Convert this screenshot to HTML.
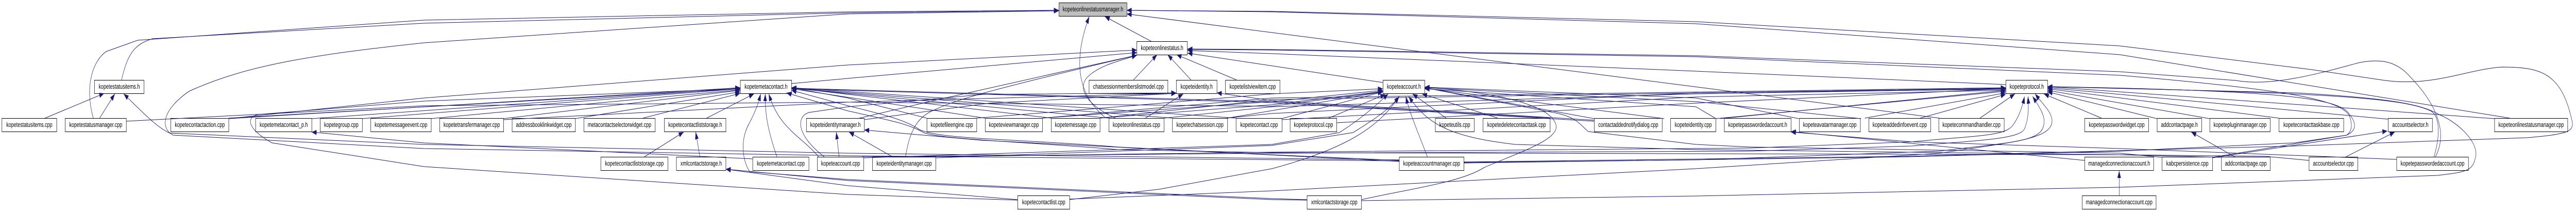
<!DOCTYPE html>
<html><head><meta charset="utf-8"><title>kopeteonlinestatusmanager.h include graph</title>
<style>
html,body{margin:0;padding:0;background:#fff;width:100%;height:100%;overflow:hidden}
svg{display:block;width:100vw;height:100vh}
rect{fill:#fff;stroke:#000;stroke-width:1}
text{font-family:"Liberation Sans",Arial,sans-serif;font-size:13.1px;text-anchor:middle;fill:#000;text-rendering:geometricPrecision}
.e path{fill:none;stroke:#191970;stroke-width:1;marker-end:url(#a)}
</style></head><body>
<svg xmlns="http://www.w3.org/2000/svg" viewBox="0 0 7291 411" preserveAspectRatio="none">
<defs><marker id="a" markerUnits="userSpaceOnUse" markerWidth="15" markerHeight="11" refX="14" refY="5" orient="auto"><path d="M0,0L14,5L0,10z" fill="#191970" stroke="none"/></marker></defs>
<rect width="7291" height="411" style="fill:#fff;stroke:none"/>
<!-- row 0 -->
<rect x="2997.5" y="5.5" width="192" height="26" style="fill:#bfbfbf"/><text x="3093.5" y="22">kopeteonlinestatusmanager.h</text>
<!-- row 1 -->
<rect x="3217.5" y="80.5" width="143" height="26"/><text x="3289" y="97">kopeteonlinestatus.h</text>
<!-- row 2 -->
<rect x="267.5" y="155.5" width="140" height="26"/><text x="337.5" y="172">kopetestatusitems.h</text>
<rect x="2095.5" y="155.5" width="145" height="26"/><text x="2168" y="172">kopetemetacontact.h</text>
<rect x="3082.5" y="155.5" width="223" height="26"/><text x="3194" y="172">chatsessionmemberslistmodel.cpp</text>
<rect x="3329.5" y="155.5" width="115" height="26"/><text x="3387" y="172">kopeteidentity.h</text>
<rect x="3468.5" y="155.5" width="154" height="26"/><text x="3545.5" y="172">kopetelistviewitem.cpp</text>
<rect x="3914.5" y="155.5" width="118" height="26"/><text x="3973.5" y="172">kopeteaccount.h</text>
<rect x="5677.5" y="155.5" width="118" height="26"/><text x="5736.5" y="172">kopeteprotocol.h</text>
<!-- row 3 -->
<rect x="5.5" y="229.5" width="155" height="26"/><text x="83" y="246">kopetestatusitems.cpp</text>
<rect x="184.5" y="229.5" width="173" height="26"/><text x="271" y="246">kopetestatusmanager.cpp</text>
<rect x="483.5" y="229.5" width="164" height="26"/><text x="565.5" y="246">kopetecontactaction.cpp</text>
<rect x="723.5" y="229.5" width="159" height="26"/><text x="803" y="246">kopetemetacontact_p.h</text>
<rect x="906.5" y="229.5" width="119" height="26"/><text x="966" y="246">kopetegroup.cpp</text>
<rect x="1049.5" y="229.5" width="171" height="26"/><text x="1135" y="246">kopetemessageevent.cpp</text>
<rect x="1244.5" y="229.5" width="181" height="26"/><text x="1335" y="246">kopetetransfermanager.cpp</text>
<rect x="1449.5" y="229.5" width="179" height="26"/><text x="1539" y="246">addressbooklinkwidget.cpp</text>
<rect x="1652.5" y="229.5" width="202" height="26"/><text x="1753.5" y="246">metacontactselectorwidget.cpp</text>
<rect x="1880.5" y="229.5" width="174" height="26"/><text x="1967.5" y="246">kopetecontactliststorage.h</text>
<rect x="2282.5" y="229.5" width="164" height="26"/><text x="2364.5" y="246">kopeteidentitymanager.h</text>
<rect x="2623.5" y="229.5" width="141" height="26"/><text x="2694" y="246">kopetefileengine.cpp</text>
<rect x="2788.5" y="229.5" width="162" height="26"/><text x="2869.5" y="246">kopeteviewmanager.cpp</text>
<rect x="2975.5" y="229.5" width="138" height="26"/><text x="3044.5" y="246">kopetemessage.cpp</text>
<rect x="3138.5" y="229.5" width="156" height="26"/><text x="3216.5" y="246">kopeteonlinestatus.cpp</text>
<rect x="3318.5" y="229.5" width="156" height="26"/><text x="3396.5" y="246">kopetechatsession.cpp</text>
<rect x="3498.5" y="229.5" width="130" height="26"/><text x="3563.5" y="246">kopetecontact.cpp</text>
<rect x="3651.5" y="229.5" width="132" height="26"/><text x="3717.5" y="246">kopeteprotocol.cpp</text>
<rect x="4062.5" y="229.5" width="110" height="26"/><text x="4117.5" y="246">kopeteutils.cpp</text>
<rect x="4197.5" y="229.5" width="190" height="26"/><text x="4292.5" y="246">kopetedeletecontacttask.cpp</text>
<rect x="4512.5" y="229.5" width="192" height="26"/><text x="4608.5" y="246">contactaddednotifydialog.cpp</text>
<rect x="4728.5" y="229.5" width="128" height="26"/><text x="4792.5" y="246">kopeteidentity.cpp</text>
<rect x="4880.5" y="229.5" width="189" height="26"/><text x="4975" y="246">kopetepasswordedaccount.h</text>
<rect x="5092.5" y="229.5" width="173" height="26"/><text x="5179" y="246">kopeteavatarmanager.cpp</text>
<rect x="5289.5" y="229.5" width="175" height="26"/><text x="5377" y="246">kopeteaddedinfoevent.cpp</text>
<rect x="5487.5" y="229.5" width="185" height="26"/><text x="5580" y="246">kopetecommandhandler.cpp</text>
<rect x="5900.5" y="229.5" width="181" height="26"/><text x="5991" y="246">kopetepasswordwidget.cpp</text>
<rect x="6105.5" y="229.5" width="126" height="26"/><text x="6168.5" y="246">addcontactpage.h</text>
<rect x="6254.5" y="229.5" width="171" height="26"/><text x="6340" y="246">kopetepluginmanager.cpp</text>
<rect x="6450.5" y="229.5" width="183" height="26"/><text x="6542" y="246">kopetecontacttaskbase.cpp</text>
<rect x="6759.5" y="229.5" width="125" height="26"/><text x="6822" y="246">accountselector.h</text>
<rect x="7060.5" y="229.5" width="207" height="26"/><text x="7164" y="246">kopeteonlinestatusmanager.cpp</text>
<!-- row 4 -->
<rect x="1700.5" y="304.5" width="190" height="26"/><text x="1795.5" y="321">kopetecontactliststorage.cpp</text>
<rect x="1914.5" y="304.5" width="140" height="26"/><text x="1984.5" y="321">xmlcontactstorage.h</text>
<rect x="2130.5" y="304.5" width="159" height="26"/><text x="2210" y="321">kopetemetacontact.cpp</text>
<rect x="2313.5" y="304.5" width="131" height="26"/><text x="2379" y="321">kopeteaccount.cpp</text>
<rect x="2469.5" y="304.5" width="179" height="26"/><text x="2559" y="321">kopeteidentitymanager.cpp</text>
<rect x="3960.5" y="304.5" width="183" height="26"/><text x="4052" y="321">kopeteaccountmanager.cpp</text>
<rect x="5900.5" y="304.5" width="195" height="26"/><text x="5998" y="321">managedconnectionaccount.h</text>
<rect x="6119.5" y="304.5" width="143" height="26"/><text x="6191" y="321">kabcpersistence.cpp</text>
<rect x="6287.5" y="304.5" width="138" height="26"/><text x="6356.5" y="321">addcontactpage.cpp</text>
<rect x="6535.5" y="304.5" width="138" height="26"/><text x="6604.5" y="321">accountselector.cpp</text>
<rect x="6783.5" y="304.5" width="203" height="26"/><text x="6885" y="321">kopetepasswordedaccount.cpp</text>
<!-- row 5 -->
<rect x="2880.5" y="379.5" width="147" height="26"/><text x="2954" y="396">kopetecontactlist.cpp</text>
<rect x="3699.5" y="379.5" width="154" height="26"/><text x="3776.5" y="396">xmlcontactstorage.cpp</text>
<rect x="5893.5" y="379.5" width="209" height="26"/><text x="5998" y="396">managedconnectionaccount.cpp</text>

<g class="e">
<!-- into manager.h -->
<path d="M344,155C362,100 385,85 432,75L1200,45L2400,25L2997,20"/>
<path d="M264,229C240,170 260,120 300,100L390,78L1200,39L2400,23L2997,20"/>
<path d="M3960,312L2400,302L1200,288L490,262C455,250 455,215 535,177C700,125 900,105 1200,83L2400,27L2997,21"/>
<path d="M4143,314L5400,303L6000,292L6494,283L7152,267C7270,260 7285,255 7280,235C7250,140 7190,130 7080,130C6980,135 6880,170 6741,155L6543,135L6000,89L4800,42L3600,22L3189,20"/>
<path d="M7103,229L6000,106L4800,46L3600,23L3189,20"/>
<path d="M5489,229L3189,27"/>
<path d="M3130,229C3060,190 3030,130 3083,32"/>
<path d="M3258,80L3127,32"/>
<!-- into statusitems.h -->
<path d="M3960,310L2400,297L1200,280L480,258C440,245 400,215 350,182"/>
<path d="M124,230L295,181"/>
<path d="M282,229L325,182"/>
<!-- into onlinestatus.h -->
<path d="M648,230L1200,190L2400,126L3218,97"/>
<path d="M2240,162L2400,152L3218,102"/>
<path d="M2563,304C2575,250 2600,225 2645,213C2700,195 2783,177 3218,107"/>
<path d="M2427,230L2630,197L3000,140L3218,107"/>
<path d="M3157,229C3080,205 3040,170 3085,145C3120,125 3170,118 3218,107"/>
<path d="M6893,304C6935,250 6880,190 6823,150C6780,115 6730,115 6680,121C6600,135 6440,170 6329,156L6000,139L4800,108L3600,96L3361,95"/>
<path d="M4143,316L5400,304L6000,293L6494,277L6642,262C6655,255 6660,245 6650,225C6625,195 6500,175 6000,146L4800,110L3600,97L3361,96"/>
<path d="M5677,164L4800,138L3600,104L3361,98"/>
<path d="M3914,160L3361,103"/>
<path d="M3208,155L3275,106"/>
<path d="M3371,155L3305,106"/>
<path d="M3500,155L3330,106"/>
<!-- into metacontact.h left -->
<path d="M1820,229L2095,181"/>
<path d="M1628,230L2095,178"/>
<path d="M1425,230L2095,175"/>
<path d="M1219,230L2095,174"/>
<path d="M1025,230L2095,172"/>
<path d="M882,230L2095,171"/>
<path d="M648,230L2095,170"/>
<path d="M648,229L2095,172"/>
<path d="M2880,388L2400,377L1200,323L770,277C700,250 695,228 730,222L1200,196L2095,172"/>
<path d="M2000,229L2134,182"/>
<path d="M2199,304C2172,250 2165,220 2166,182"/>
<path d="M2317,304C2270,265 2205,250 2176,182"/>
<path d="M3699,387L3600,385L2400,348L2122,333C2100,310 2095,270 2120,240C2135,220 2145,205 2153,182"/>
<!-- into metacontact.h right -->
<path d="M2623,229L2400,190L2240,170"/>
<path d="M2788,229L2240,172"/>
<path d="M2975,229L2240,170"/>
<path d="M3139,229L2240,171"/>
<path d="M3318,229L2240,171"/>
<path d="M3498,229L2240,170"/>
<path d="M4387,229L3600,197L2240,171"/>
<path d="M4512,235L3600,199L2240,172"/>
<path d="M6535,311L6411,303L6000,300L3600,296L3165,290C2900,275 2660,270 2614,257C2570,240 2530,235 2400,215L2226,180"/>
<path d="M3960,311L3600,300L3165,285C2900,270 2640,270 2600,250C2560,232 2500,222 2400,205L2240,175"/>
<!-- into liststorage.h, xml h, metacontact_p -->
<path d="M1981,304L1969,256"/>
<path d="M1824,304L1935,256"/>
<path d="M3699,388L3600,387L2400,350L2054,328"/>
<path d="M2880,387L2400,360L2054,328"/>
<path d="M2130,308L1200,277L882,256"/>
<!-- identity manager.h -->
<path d="M2526,304L2403,256"/>
<path d="M2375,304L2367,256"/>
<path d="M3960,313L2780,272L2446,252"/>
<!-- identity.h -->
<path d="M3242,229L3349,182"/>
<path d="M2333,304C2250,260 2255,225 2290,218L2400,207L2783,183L3329,180"/>
<path d="M2446,232L2800,200L3329,181"/>
<path d="M1425,232L2400,198L3329,181"/>
<path d="M4512,233L3600,195L3444,180"/>
<!-- account.h left -->
<path d="M357,235L1200,205L2400,198L3600,206L3914,178"/>
<path d="M2764,229L3165,207L3600,182L3914,172"/>
<path d="M2950,229L3600,197L3914,175"/>
<path d="M3113,229L3600,203L3914,177"/>
<path d="M3474,229L3914,178"/>
<path d="M3627,230L3914,178"/>
<path d="M3757,230L3921,183"/>
<path d="M2444,306L3165,290L3600,280L3791,257C3830,240 3880,215 3929,182"/>
<path d="M2648,306L3600,282L3830,257C3880,235 3930,215 3960,187"/>
<path d="M3027,387L3280,367L3600,327C3800,290 3900,250 3960,187"/>
<path d="M4040,304C4010,250 3990,220 3979,187"/>
<path d="M6287,305L6000,300L4800,290L4289,280C4100,265 4040,240 3987,187"/>
<path d="M4093,229L3998,182"/>
<path d="M4239,229L4025,182"/>
<!-- account.h right -->
<path d="M3853,387C4000,365 4136,353 4200,325C4300,295 4420,270 4403,240C4385,205 4250,180 4032,169"/>
<path d="M6119,305L6000,297L4953,285L4800,280L4495,255C4470,240 4460,225 4388,217L4032,170"/>
<path d="M4512,230L4032,170"/>
<path d="M4710,230L4032,171"/>
<path d="M4857,230L4800,207L4032,172"/>
<path d="M5091,230L4800,190L4032,169"/>
<path d="M5267,230L4800,197L4032,170"/>
<!-- protocol.h left -->
<path d="M3295,229L3600,207L4800,182L5677,172"/>
<path d="M3472,229L3600,220L4800,180L5677,173"/>
<path d="M3628,232L4800,188L5677,175"/>
<path d="M2950,229L3600,190L5677,170"/>
<path d="M3113,229L3600,193L5677,171"/>
<path d="M3783,238L4800,200L5677,172"/>
<path d="M4857,230L5677,177"/>
<path d="M4869,230L5677,175"/>
<path d="M5278,229L5677,180"/>
<path d="M5435,229L5677,183"/>
<path d="M5604,229L5703,182"/>
<!-- protocol.h bottom -->
<path d="M2620,304L3600,295L4953,287L5412,275C5600,262 5680,265 5700,240C5715,225 5725,205 5730,187"/>
<path d="M2440,304L3600,297L4953,293L5412,283C5600,272 5715,270 5730,250C5742,230 5742,210 5740,187"/>
<path d="M4143,315L4800,310L5489,293C5700,275 5780,275 5785,240C5790,225 5770,205 5753,187"/>
<path d="M3027,386L3600,370L4800,327L5489,297C5700,275 5810,270 5808,233C5805,215 5785,205 5760,182"/>
<!-- protocol.h right -->
<path d="M5948,229L5785,182"/>
<path d="M6105,230L5795,178"/>
<path d="M6254,230L5795,175"/>
<path d="M6450,229L5795,172"/>
<path d="M6759,231L5795,170"/>
<path d="M7060,230L5795,168"/>
<path d="M3853,389L4800,380L6000,363L6900,340C6990,333 7000,330 7008,300C7010,270 6950,235 6906,223C6850,200 6750,190 6500,180L5795,168"/>
<path d="M6889,304C6908,260 6905,225 6880,215C6800,190 6600,180 5795,168"/>
<path d="M6262,305L6642,262C6680,250 6660,230 6650,222C6625,190 6450,175 5795,168"/>
<!-- misc -->
<path d="M6262,306L6757,254"/>
<path d="M6640,304L6778,256"/>
<path d="M6325,304L6202,256"/>
<path d="M5998,379L5998,331"/>
<path d="M5900,311L5069,255"/>
<path d="M6783,309L6000,288L5412,275L5069,256"/>
</g>
</svg>
</body></html>
